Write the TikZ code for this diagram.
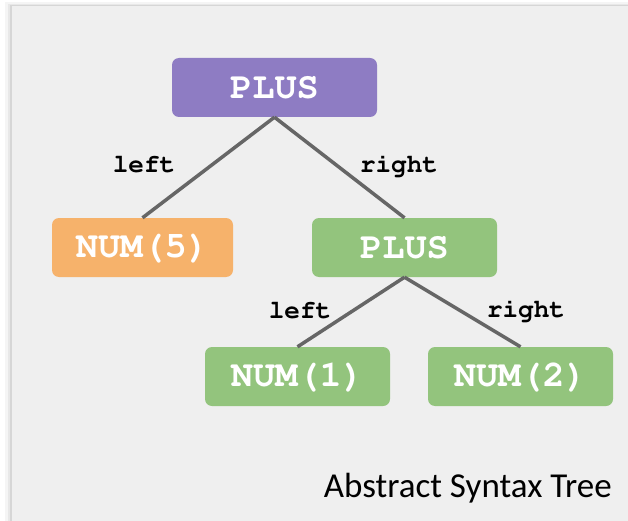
\documentclass[tikz,border=0pt]{standalone}
\usepackage[T1]{fontenc}
\usepackage{fontspec}
\usepackage{xcolor}
\usepackage{tikz}
\usetikzlibrary{arrows.meta,positioning}
\newcommand\codefont{\fontencoding{T1}\fontfamily{pcr}\fontseries{b}\selectfont}
\newfontfamily\capfont{Carlito}
\definecolor{astpanel}{HTML}{EFEFEF}
\definecolor{astpurple}{HTML}{8E7CC3}
\definecolor{astorange}{HTML}{F6B26B}
\definecolor{astgreen}{HTML}{93C47D}
\definecolor{astedge}{HTML}{666666}

\begin{document}
\begin{tikzpicture}[x=1pt, y=-1pt, >=Latex,
  astnode/.style={rounded corners=7pt, minimum width=185pt, minimum height=59pt,
    inner sep=0pt, text=white, font=\codefont\fontsize{37}{40}\selectfont},
  edgelbl/.style={font=\codefont\fontsize{26}{28}\selectfont, inner sep=0pt},
  astline/.style={line width=3.5pt, astedge}]
  \useasboundingbox (0,0) rectangle (628,521);
  % panel with a soft shadow on its top and left
  \fill[black!4] (5,2) rectangle (628,521);
  \fill[black!9] (8,4) rectangle (628,521);
  \fill[black!16] (10,5) rectangle (628,521);
  \fill[astpanel] (12,6) rectangle (628,521);

  \node[astnode, fill=astpurple, minimum width=205pt] (plus1) at (274.5,87.5) {PLUS};
  \node[astnode, fill=astorange, minimum width=181pt] (num5) at (142.5,247.5) {NUM(5)};
  \node[astnode, fill=astgreen] (plus2) at (404.5,247.5) {PLUS};
  \node[astnode, fill=astgreen] (num1) at (297.5,376.5) {NUM(1)};
  \node[astnode, fill=astgreen] (num2) at (520.5,376.5) {NUM(2)};

  \draw[astline] (plus1.south) -- (num5.north);
  \draw[astline] (plus1.south) -- (plus2.north);
  \draw[astline] (plus2.south) -- (num1.north);
  \draw[astline] (plus2.south) -- (num2.north);

  \node[edgelbl] (lbl1left) at (144,165) {left};
  \node[edgelbl] (lbl1right) at (399,166) {right};
  \node[edgelbl] (lbl2left) at (300,311) {left};
  \node[edgelbl] (lbl2right) at (526,311) {right};

  \node[anchor=base east, inner sep=0pt, font=\capfont\fontsize{35}{40}\selectfont] (title) at (612,497) {Abstract Syntax Tree};
\end{tikzpicture}
\end{document}
